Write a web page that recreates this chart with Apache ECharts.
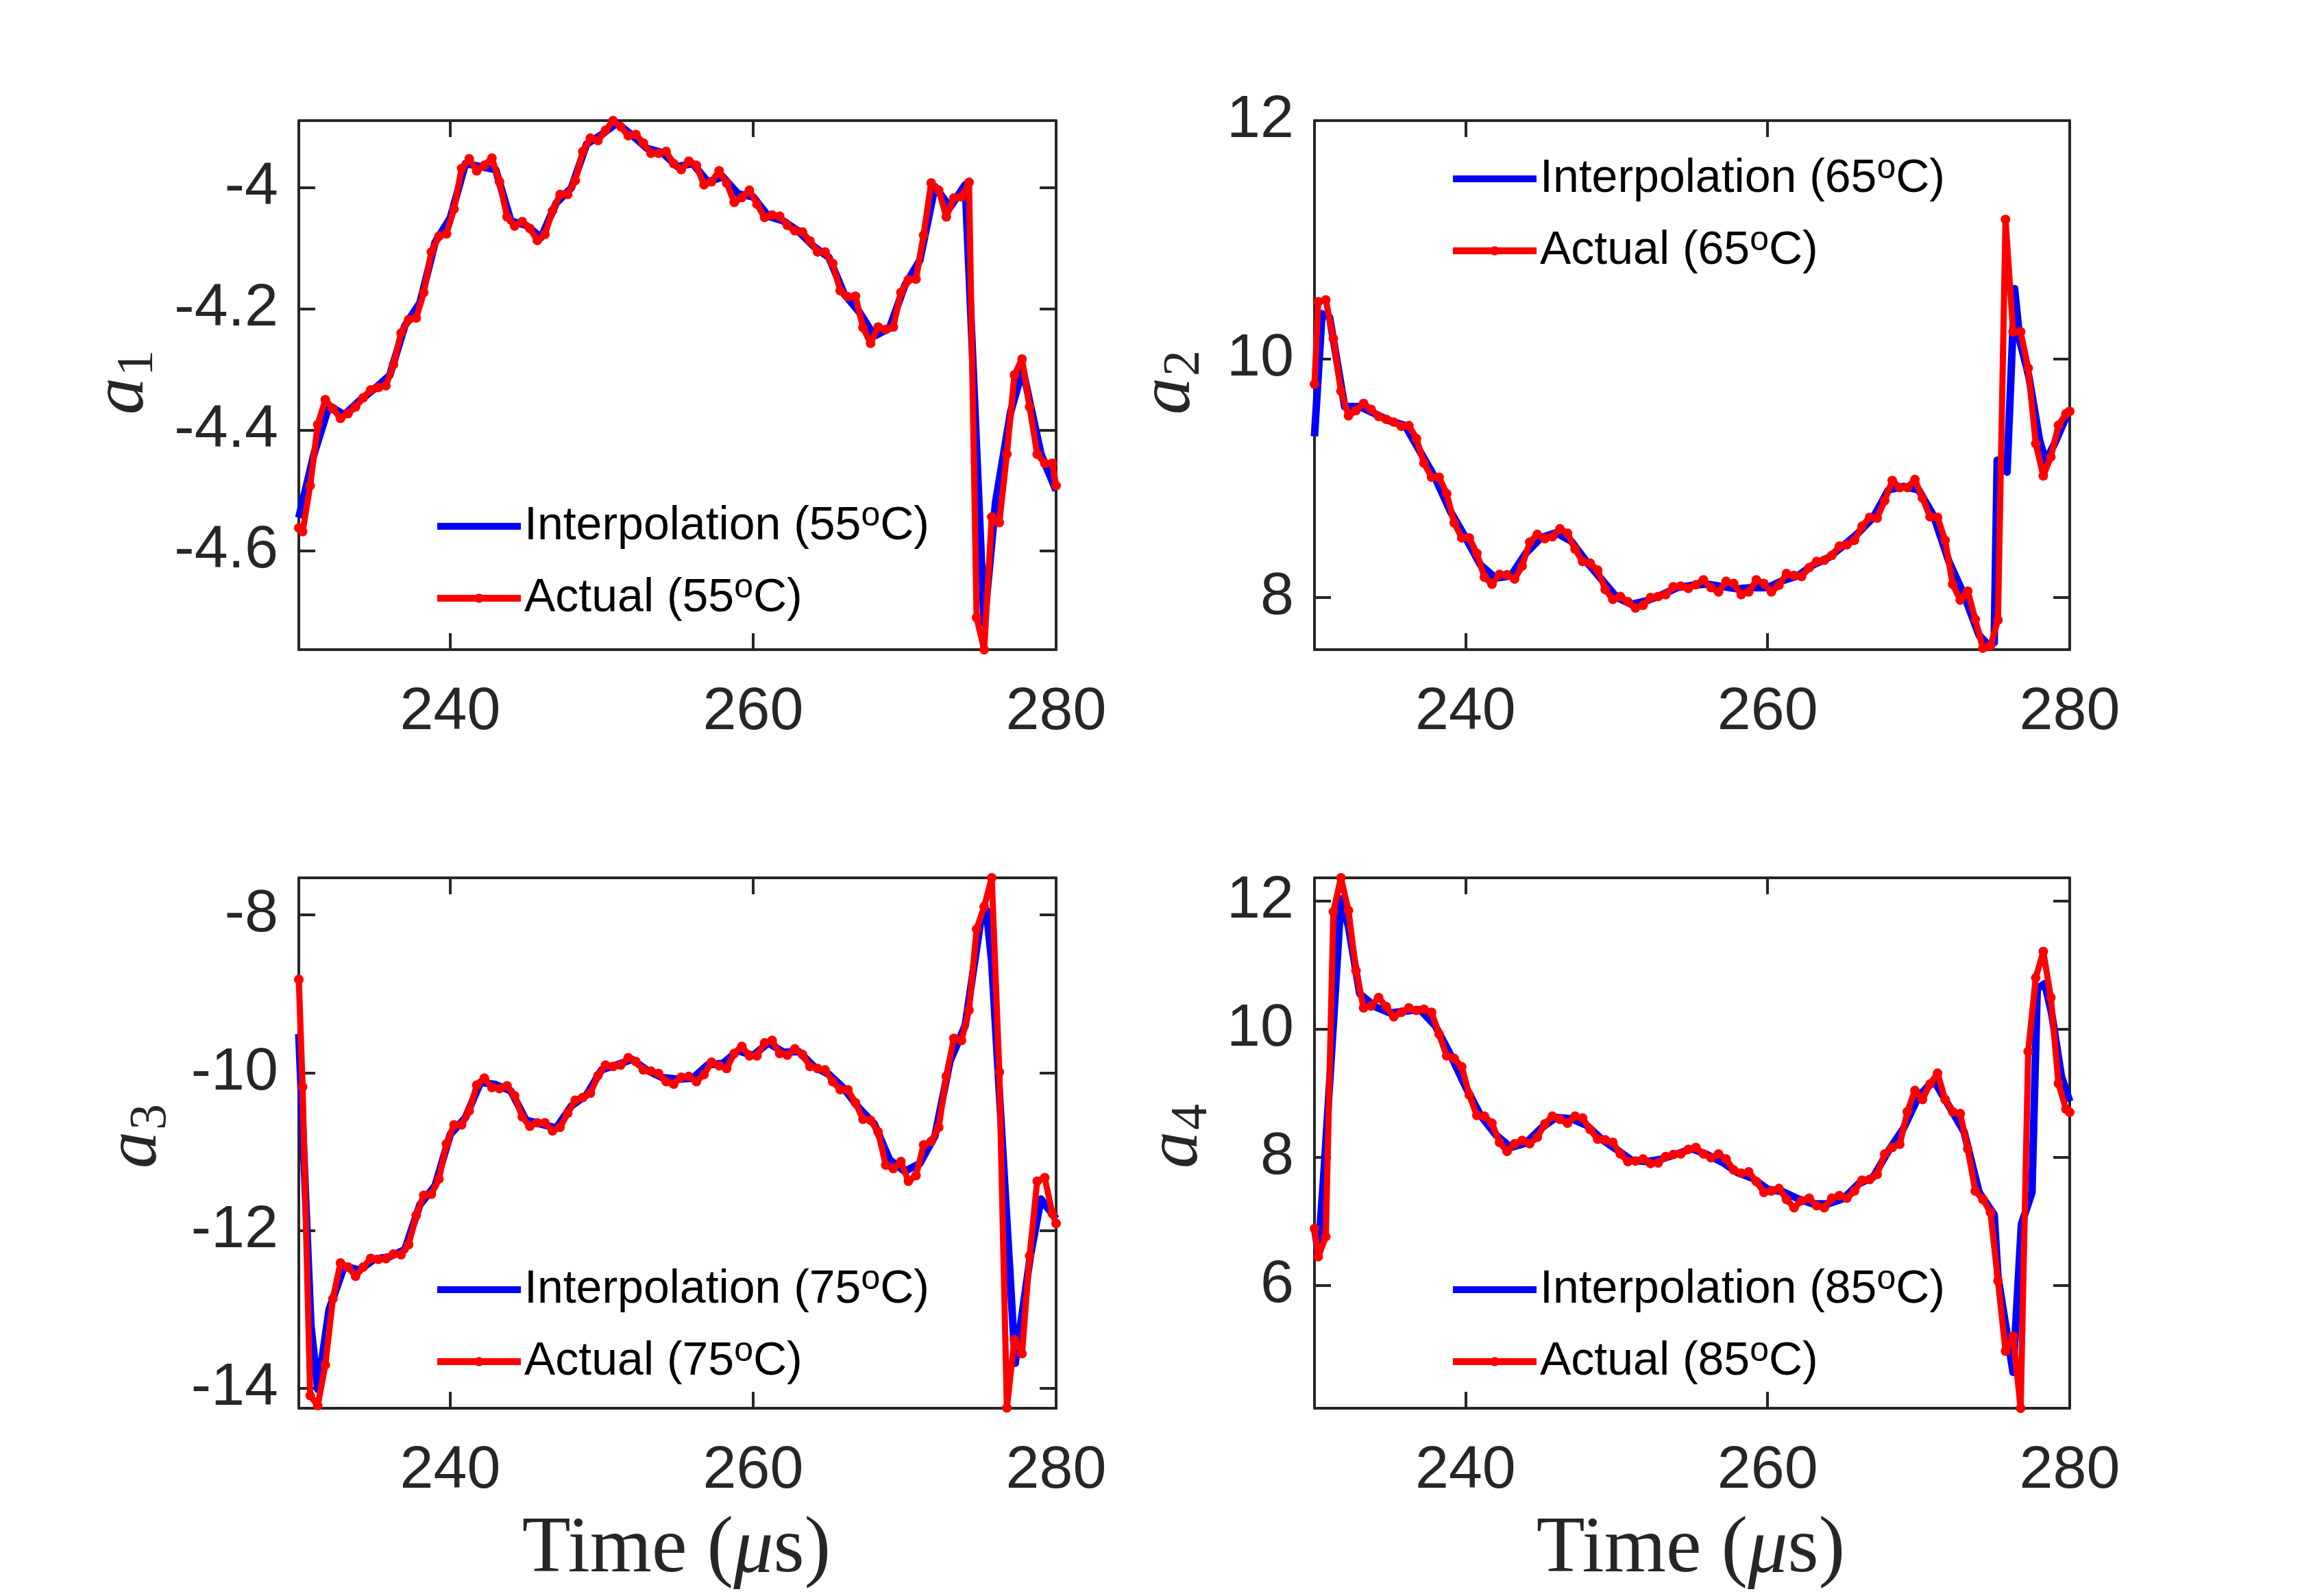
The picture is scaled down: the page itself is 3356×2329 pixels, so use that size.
<!DOCTYPE html>
<html>
<head>
<meta charset="utf-8">
<script src="https://cdn.jsdelivr.net/npm/echarts@6/dist/echarts.min.js"></script>
<style>
  html, body { margin: 0; padding: 0; background: #fff; }
  #chart { width: 3356px; height: 2329px; }
</style>
</head>
<body>
<div id="chart"></div>
<script>
// sample times of the "Actual" curves: edge point at 230, then every 0.5 us from 230.25, edge point at 280
const tActual = [230];
for (let k = 0; k < 100; k++) tActual.push(230.25 + 0.5 * k);
tActual.push(280);

const xTicks = [240, 260, 280];

// ---- a1 (55 C)
const actual55 = [-4.562,
  -4.568, -4.492, -4.391, -4.350, -4.365, -4.381, -4.373, -4.362, -4.347, -4.334,
  -4.330, -4.327, -4.292, -4.240, -4.218, -4.215, -4.173, -4.106, -4.080, -4.076,
  -4.035, -3.968, -3.952, -3.972, -3.963, -3.951, -3.990, -4.048, -4.063, -4.056,
  -4.067, -4.087, -4.077, -4.038, -4.011, -4.011, -3.988, -3.940, -3.918, -3.922,
  -3.905, -3.889, -3.899, -3.914, -3.912, -3.926, -3.943, -3.943, -3.940, -3.960,
  -3.970, -3.956, -3.963, -3.995, -3.990, -3.972, -3.992, -4.024, -4.016, -4.004,
  -4.027, -4.049, -4.045, -4.047, -4.062, -4.071, -4.073, -4.088, -4.106, -4.106,
  -4.125, -4.170, -4.180, -4.179, -4.231, -4.257, -4.230, -4.234, -4.230, -4.173,
  -4.152, -4.151, -4.078, -3.992, -4.004, -4.048, -4.017, -4.015, -3.991, -4.710,
  -4.763, -4.544, -4.553, -4.440, -4.309, -4.283, -4.362, -4.440, -4.455, -4.455,
  -4.492];
const interp55 = [[230,-4.545],[231,-4.44],[232,-4.36],[233,-4.375],[234,-4.352],[235,-4.332],[236,-4.31],
  [237,-4.228],[238,-4.19],[239,-4.09],[240,-4.05],[241,-3.96],[242,-3.965],[243,-3.97],[244,-4.055],
  [245,-4.062],[246,-4.082],[247,-4.025],[248,-4.0],[249,-3.928],[250,-3.912],[251,-3.893],[252,-3.913],
  [253,-3.935],[254,-3.942],[255,-3.965],[256,-3.96],[257,-3.99],[258,-3.982],[259,-4.01],[260,-4.015],
  [261,-4.047],[262,-4.055],[263,-4.072],[264,-4.097],[265,-4.115],[266,-4.175],[267,-4.205],[268,-4.245],
  [269,-4.232],[270,-4.162],[271,-4.12],[272,-3.998],[273,-4.032],[274,-3.995],[275.25,-4.72],[276,-4.52],
  [277,-4.37],[277.8,-4.30],[279,-4.44],[280,-4.50]];
const yTicks55 = [-4.6, -4.4, -4.2, -4];

// ---- a2 (65 C)
const actual65 = [9.788,
  10.480, 10.495, 10.171, 9.729, 9.523, 9.567, 9.626, 9.576, 9.517, 9.493,
  9.470, 9.434, 9.440, 9.331, 9.125, 9.007, 9.007, 8.869, 8.624, 8.498,
  8.498, 8.368, 8.168, 8.109, 8.191, 8.188, 8.153, 8.262, 8.462, 8.527,
  8.492, 8.507, 8.574, 8.536, 8.404, 8.300, 8.286, 8.227, 8.065, 7.982,
  8.006, 7.962, 7.909, 7.932, 7.997, 8.006, 8.021, 8.088, 8.094, 8.074,
  8.105, 8.145, 8.080, 8.044, 8.133, 8.115, 8.021, 8.044, 8.145, 8.115,
  8.044, 8.100, 8.198, 8.183, 8.174, 8.248, 8.301, 8.310, 8.351, 8.428,
  8.440, 8.478, 8.596, 8.670, 8.664, 8.811, 8.979, 8.920, 8.920, 8.988,
  8.832, 8.676, 8.670, 8.478, 8.109, 7.976, 8.050, 7.814, 7.572, 7.593,
  7.808, 11.171, 10.227, 10.227, 9.923, 9.289, 9.018, 9.177, 9.442, 9.540,
  9.560];
const interp65 = [[230,9.35],[230.5,10.38],[231,10.35],[232,9.6],[233,9.6],[234,9.54],[235,9.48],[236,9.44],
  [237,9.22],[238,9.0],[239,8.72],[240,8.5],[241,8.27],[242,8.16],[243,8.18],[244,8.37],[245,8.5],
  [246,8.54],[247,8.47],[248,8.3],[249,8.15],[250,8.0],[251,7.94],[252,7.97],[253,8.02],[254,8.08],
  [255,8.1],[256,8.11],[257,8.09],[258,8.07],[259,8.08],[260,8.08],[261,8.14],[262,8.18],[263,8.27],
  [264,8.33],[265,8.43],[266,8.54],[267,8.67],[268,8.9],[269,8.93],[270,8.9],[271,8.68],[272,8.3],
  [273,8.02],[274,7.68],[274.6,7.6],[275.0,7.62],[275.2,9.15],[275.85,9.05],[276.35,10.59],[276.7,10.15],
  [277.3,9.85],[278,9.32],[278.4,9.14],[279,9.29],[280,9.58]];
const yTicks65 = [8, 10, 12];

// ---- a3 (75 C)
const actual75 = [-8.818,
  -10.178, -14.090, -14.215, -13.702, -12.864, -12.409, -12.462, -12.578, -12.462, -12.351,
  -12.364, -12.355, -12.297, -12.306, -12.177, -11.806, -11.552, -11.539, -11.347, -10.901,
  -10.660, -10.660, -10.482, -10.156, -10.067, -10.187, -10.201, -10.165, -10.290, -10.558,
  -10.678, -10.633, -10.633, -10.736, -10.691, -10.513, -10.348, -10.312, -10.259, -10.036,
  -9.902, -9.920, -9.902, -9.808, -9.857, -9.964, -9.978, -10.009, -10.112, -10.143,
  -10.056, -10.045, -10.112, -10.022, -9.866, -9.911, -9.946, -9.755, -9.665, -9.786,
  -9.786, -9.621, -9.590, -9.755, -9.777, -9.697, -9.768, -9.920, -9.946, -9.964,
  -10.112, -10.214, -10.214, -10.379, -10.589, -10.602, -10.749, -11.169, -11.213, -11.124,
  -11.374, -11.302, -10.914, -10.870, -10.691, -10.045, -9.563, -9.590, -9.206, -8.180,
  -7.895, -7.530, -9.991, -14.246, -13.381, -13.559, -12.319, -11.374, -11.329, -11.784,
  -11.909];
const interp75 = [[230,-9.51],[230.8,-13.2],[231.25,-14.01],[232,-13.0],[233,-12.45],[234,-12.5],[235,-12.36],
  [236,-12.33],[237,-12.24],[238,-11.67],[239,-11.43],[240,-10.78],[241,-10.57],[242,-10.12],[243,-10.15],
  [244,-10.23],[245,-10.6],[246,-10.65],[247,-10.7],[248,-10.42],[249,-10.28],[250,-9.96],[251,-9.9],
  [252,-9.83],[253,-9.97],[254,-10.06],[255,-10.08],[256,-10.07],[257,-9.9],[258,-9.88],[259,-9.72],
  [260,-9.78],[261,-9.62],[262,-9.74],[263,-9.73],[264,-9.92],[265,-10.02],[266,-10.2],[267,-10.45],
  [268,-10.65],[269,-11.1],[270,-11.25],[271,-11.15],[272,-10.8],[273,-9.85],[274,-9.4],[275,-8.1],
  [275.4,-7.94],[275.75,-8.6],[277.3,-13.68],[278.3,-12.32],[279,-11.6],[280,-11.85]];
const yTicks75 = [-14, -12, -10, -8];

// ---- a4 (85 C)
const actual85 = [6.885,
  6.445, 6.758, 11.83, 12.36, 11.85, 10.91, 10.33, 10.36, 10.49, 10.35,
  10.19, 10.26, 10.33, 10.29, 10.31, 10.26, 9.92, 9.58, 9.54, 9.41,
  8.97, 8.65, 8.64, 8.53, 8.23, 8.09, 8.21, 8.26, 8.21, 8.31,
  8.52, 8.64, 8.59, 8.53, 8.64, 8.61, 8.43, 8.28, 8.27, 8.23,
  8.05, 7.93, 7.94, 7.97, 7.90, 7.91, 8.01, 8.04, 8.05, 8.12,
  8.15, 8.05, 7.99, 8.05, 7.97, 7.80, 7.75, 7.77, 7.62, 7.45,
  7.47, 7.51, 7.34, 7.21, 7.32, 7.36, 7.24, 7.21, 7.36, 7.40,
  7.36, 7.47, 7.64, 7.65, 7.73, 8.05, 8.15, 8.20, 8.71, 9.04,
  8.90, 9.14, 9.31, 8.90, 8.71, 8.68, 8.13, 7.47, 7.34, 7.14,
  6.07, 4.97, 5.20, 4.08, 9.65, 10.80, 11.21, 10.49, 9.15, 8.75,
  8.70];
const interp85 = [[230,6.9],[230.25,6.51],[230.6,7.66],[231.25,10.08],[231.75,12.03],[232.25,11.6],[233,10.55],
  [234,10.35],[235,10.25],[236,10.28],[237,10.3],[238,10.05],[239,9.6],[240,9.1],[241,8.65],[242,8.35],
  [243,8.15],[244,8.22],[245,8.45],[246,8.62],[247,8.6],[248,8.5],[249,8.28],[250,8.12],[251,7.95],
  [252,7.93],[253,7.97],[254,8.05],[255,8.13],[256,8.04],[257,7.92],[258,7.76],[259,7.67],[260,7.5],
  [261,7.46],[262,7.35],[263,7.27],[264,7.27],[265,7.35],[266,7.58],[267,7.69],[268,8.1],[269,8.45],
  [270,8.95],[271,9.2],[272,8.8],[273,8.4],[274,7.45],[275,7.1],[275.25,6.13],[276.25,4.64],[276.8,6.95],
  [277.5,7.45],[277.85,10.63],[278.35,10.71],[278.8,10.25],[279.45,9.26],[280,8.87]];
const yTicks85 = [6, 8, 10, 12];

const panels = [
  { temp: '55', sub: '1', actual: actual55, interp: interp55, yTicks: yTicks55, yMin: -4.763, yMax: -3.889,
    grid: { left: 436, top: 176, width: 1105, height: 772 }, legend: { left: 633, top: 728 }, yLab: [180, 562] },
  { temp: '65', sub: '2', actual: actual65, interp: interp65, yTicks: yTicks65, yMin: 7.56, yMax: 12,
    grid: { left: 1918, top: 176, width: 1102, height: 772 }, legend: { left: 2115, top: 221 }, yLab: [1707, 562] },
  { temp: '75', sub: '3', actual: actual75, interp: interp75, yTicks: yTicks75, yMin: -14.25, yMax: -7.53,
    grid: { left: 436, top: 1281, width: 1105, height: 774 }, legend: { left: 633, top: 1842 }, yLab: [199, 1662] },
  { temp: '85', sub: '4', actual: actual85, interp: interp85, yTicks: yTicks85, yMin: 4.08, yMax: 12.36,
    grid: { left: 1918, top: 1281, width: 1102, height: 774 }, legend: { left: 2115, top: 1842 }, yLab: [1718, 1662] }
];

const AX = '#262626';
const SANS = '"Liberation Sans", Arial, Helvetica, sans-serif';
const SERIF = '"Liberation Serif", "Times New Roman", serif';

const grids = [], xAxes = [], yAxes = [], series = [], legends = [], graphics = [];

function axisBase(extra) {
  return Object.assign({
    type: 'value',
    splitLine: { show: false },
    axisLine: { show: true, onZero: false, lineStyle: { color: AX, width: 4 } }
  }, extra);
}

panels.forEach((p, i) => {
  grids.push(Object.assign({ containLabel: false }, p.grid));
  const tick = (vals) => ({ show: true, inside: true, length: 24, customValues: vals, lineStyle: { color: AX, width: 4 } });
  xAxes.push(axisBase({ gridIndex: i, position: 'bottom', min: 230, max: 280, axisTick: tick(xTicks),
    axisLabel: { customValues: xTicks, fontSize: 88, fontFamily: SANS, color: AX, margin: 48 } }));
  xAxes.push(axisBase({ gridIndex: i, position: 'top', min: 230, max: 280, axisTick: tick(xTicks), axisLabel: { show: false } }));
  yAxes.push(axisBase({ gridIndex: i, position: 'left', min: p.yMin, max: p.yMax, axisTick: tick(p.yTicks),
    axisLabel: { customValues: p.yTicks, fontSize: 88, fontFamily: SANS, color: AX, margin: 30 } }));
  yAxes.push(axisBase({ gridIndex: i, position: 'right', min: p.yMin, max: p.yMax, axisTick: tick(p.yTicks), axisLabel: { show: false } }));

  const blueName = 'Interpolation (' + p.temp + '°C)';
  const redName = 'Actual (' + p.temp + '°C)';
  series.push({
    type: 'line', name: blueName, xAxisIndex: 2 * i, yAxisIndex: 2 * i,
    data: p.interp, symbol: 'none', z: 2,
    lineStyle: { color: '#0000ff', width: 11, join: 'round' }, itemStyle: { color: '#0000ff' }
  });
  series.push({
    type: 'line', name: redName, xAxisIndex: 2 * i, yAxisIndex: 2 * i,
    data: tActual.map((t, k) => [t, p.actual[k]]),
    symbol: 'circle', symbolSize: 14, showAllSymbol: true, z: 3,
    lineStyle: { color: '#ff0000', width: 9, join: 'round' }, itemStyle: { color: '#ff0000' }
  });

  legends.push({
    data: [
      { name: blueName, itemStyle: { opacity: 0 }, lineStyle: { width: 10, color: '#0000ff' } },
      { name: redName, lineStyle: { width: 10, color: '#ff0000' } }
    ],
    orient: 'vertical', padding: 0,
    left: p.legend.left, top: p.legend.top,
    itemWidth: 122, itemHeight: 17, itemGap: 31, selectedMode: false,
    formatter: (name) => {
      const m = name.match(/^(.*\(\d+)°(C\))$/);
      return '{t|' + m[1] + '}{s|o}{t|' + m[2] + '}';
    },
    textStyle: {
      color: '#000', fontFamily: SANS,
      rich: {
        t: { fontSize: 68, fontFamily: SANS, color: '#000', lineHeight: 80 },
        s: { fontSize: 50, fontFamily: SANS, color: '#000', lineHeight: 14, verticalAlign: 'top' }
      }
    }
  });

  // y label: italic a with subscript index, rotated
  graphics.push({
    type: 'group', x: p.yLab[0], y: p.yLab[1], rotation: Math.PI / 2,
    children: [
      { type: 'text', x: -16, y: 0, style: { text: 'a', fontSize: 108, fontFamily: SERIF, fontStyle: 'italic', fill: AX,
        align: 'center', verticalAlign: 'middle', textAlign: 'center', textVerticalAlign: 'middle' } },
      { type: 'text', x: 32, y: 22, style: { text: p.sub, fontSize: 76, fontFamily: SERIF, fill: AX,
        align: 'center', verticalAlign: 'middle', textAlign: 'center', textVerticalAlign: 'middle' } }
    ]
  });
});

// x labels for the bottom row
[[987, 2263], [2467, 2263]].forEach(([cx, cy]) => {
  graphics.push({
    type: 'text', x: cx, y: cy,
    style: {
      text: '{r|Time (}{i|μ}{r|s)}',
      align: 'center', verticalAlign: 'middle', textAlign: 'center', textVerticalAlign: 'middle',
      rich: {
        r: { fontSize: 116, fontFamily: SERIF, fill: AX, color: AX },
        i: { fontSize: 116, fontFamily: SERIF, fontStyle: 'italic', fill: AX, color: AX }
      }
    }
  });
});

const chart = echarts.init(document.getElementById('chart'), null, { renderer: 'canvas', devicePixelRatio: 1 });
chart.setOption({
  backgroundColor: '#ffffff',
  animation: false,
  grid: grids,
  xAxis: xAxes,
  yAxis: yAxes,
  legend: legends,
  series: series,
  graphic: graphics
});
</script>
</body>
</html>
